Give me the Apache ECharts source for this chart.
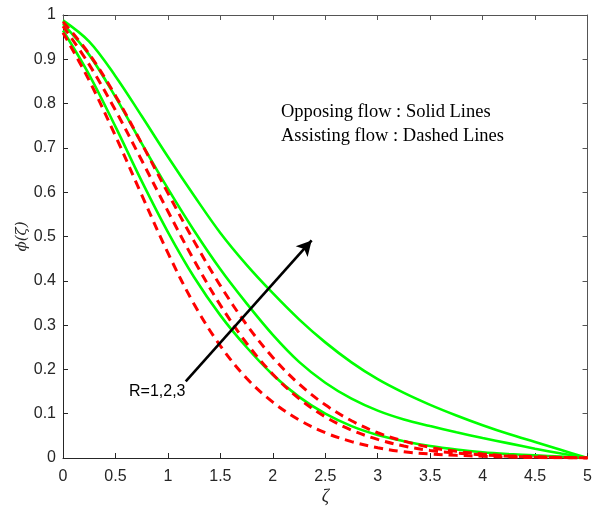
<!DOCTYPE html>
<html>
<head>
<meta charset="utf-8">
<script src="https://cdn.jsdelivr.net/npm/echarts@6/dist/echarts.min.js"></script>
<style>html,body{margin:0;padding:0;background:#fff;}#c{width:595px;height:512px;}</style>
</head>
<body>
<div id="c"></div>
<script>
const zeta = [0,0.25,0.5,0.75,1,1.25,1.5,1.75,2,2.25,2.5,2.75,3,3.25,3.5,3.75,4,4.25,4.5,4.75,5];
// Opposing flow (solid)
const solidR1 = [0.965,0.865,0.748,0.625,0.51,0.408,0.322,0.25,0.188,0.138,0.1,0.072,0.052,0.038,0.027,0.019,0.013,0.009,0.006,0.003,0];
const solidR2 = [0.98,0.91,0.815,0.71,0.608,0.513,0.426,0.349,0.278,0.217,0.17,0.134,0.107,0.087,0.072,0.058,0.045,0.033,0.021,0.01,0];
const solidR3 = [0.988,0.94,0.862,0.772,0.68,0.592,0.508,0.436,0.372,0.313,0.261,0.216,0.178,0.147,0.12,0.096,0.074,0.054,0.036,0.018,0];
// Assisting flow (dashed)
const dashR1 = [0.96,0.852,0.727,0.594,0.463,0.347,0.253,0.18,0.126,0.086,0.057,0.037,0.023,0.014,0.009,0.006,0.004,0.002,0.001,0.0005,0];
const dashR2 = [0.975,0.888,0.785,0.672,0.557,0.446,0.345,0.259,0.189,0.134,0.093,0.063,0.042,0.027,0.017,0.011,0.007,0.004,0.002,0.001,0];
const dashR3 = [0.985,0.912,0.818,0.71,0.598,0.489,0.389,0.301,0.227,0.167,0.12,0.084,0.057,0.038,0.024,0.015,0.009,0.005,0.003,0.001,0];
const arrowFrom = [1.17, 0.173];
const arrowTo = [2.37, 0.491];

const pair = (ys) => zeta.map((x, i) => [x, ys[i]]);
const axisCol = '#262626';
const chart = echarts.init(document.getElementById('c'), null, {renderer: 'canvas'});
const solid = (name, ys) => ({name, type: 'line', data: pair(ys), showSymbol: false, smooth: 0.35,
  lineStyle: {color: '#00ff00', width: 2.6}, z: 3});
const dashed = (name, ys) => ({name, type: 'line', data: pair(ys), showSymbol: false, smooth: 0.35,
  lineStyle: {color: '#ff0000', width: 3, type: [9, 6]}, z: 4});
const tickLabel = {color: '#262626', fontSize: 16, fontFamily: 'Liberation Sans, Arial, sans-serif'};
chart.setOption({
  animation: false,
  backgroundColor: '#fff',
  grid: {left: 63, right: 7, top: 15, bottom: 54, containLabel: false},
  xAxis: [
    {type: 'value', min: 0, max: 5, interval: 0.5, position: 'bottom',
     axisLine: {show: true, onZero: false, lineStyle: {color: axisCol, width: 1}},
     axisTick: {show: true, inside: true, length: 5, lineStyle: {color: axisCol}},
     axisLabel: Object.assign({margin: 11}, tickLabel),
     splitLine: {show: false},
     name: 'ζ', nameLocation: 'middle', nameGap: 30, nameMoveOverlap: false,
     nameTextStyle: {fontFamily: 'Liberation Serif, Times New Roman, serif', fontStyle: 'italic', fontSize: 18, color: '#262626'}},
    {type: 'value', min: 0, max: 5, interval: 0.5, position: 'top',
     axisLine: {show: true, onZero: false, lineStyle: {color: '#555', width: 1}},
     axisTick: {show: true, inside: true, length: 5, lineStyle: {color: '#555'}},
     axisLabel: {show: false}, splitLine: {show: false}}
  ],
  yAxis: [
    {type: 'value', min: 0, max: 1, interval: 0.1, position: 'left',
     axisLine: {show: true, onZero: false, lineStyle: {color: axisCol, width: 1}},
     axisTick: {show: true, inside: true, length: 5, lineStyle: {color: axisCol}},
     axisLabel: Object.assign({margin: 7}, tickLabel),
     splitLine: {show: false},
     name: 'ϕ(ζ)', nameLocation: 'middle', nameGap: 33, nameRotate: 90, nameMoveOverlap: false,
     nameTextStyle: {fontFamily: 'DejaVu Serif, Liberation Serif, serif', fontStyle: 'italic', fontSize: 15, color: '#262626'}},
    {type: 'value', min: 0, max: 1, interval: 0.1, position: 'right',
     axisLine: {show: true, onZero: false, lineStyle: {color: '#555', width: 1}},
     axisTick: {show: true, inside: true, length: 5, lineStyle: {color: '#555'}},
     axisLabel: {show: false}, splitLine: {show: false}}
  ],
  series: [
    solid('Opposing R=1', solidR1),
    solid('Opposing R=2', solidR2),
    solid('Opposing R=3', solidR3),
    dashed('Assisting R=1', dashR1),
    dashed('Assisting R=2', dashR2),
    dashed('Assisting R=3', dashR3),
    {type: 'line', data: [], z: 6,
     markLine: {silent: true, symbol: ['none', 'arrow'], symbolSize: [12, 15],
       label: {show: false},
       lineStyle: {color: '#000', width: 2.6, type: 'solid'},
       data: [[{coord: arrowFrom}, {coord: arrowTo}]]}}
  ],
  graphic: [
    {type: 'text', left: 281, top: 103, style: {text: 'Opposing flow : Solid Lines', fill: '#000', font: '18.5px "Liberation Serif", "Times New Roman", serif'}},
    {type: 'text', left: 281, top: 127, style: {text: 'Assisting flow : Dashed Lines', fill: '#000', font: '18.5px "Liberation Serif", "Times New Roman", serif'}},
    {type: 'text', left: 129, top: 384, style: {text: 'R=1,2,3', fill: '#000', font: '16px "Liberation Sans", Arial, sans-serif'}}
  ]
});
</script>
</body>
</html>
